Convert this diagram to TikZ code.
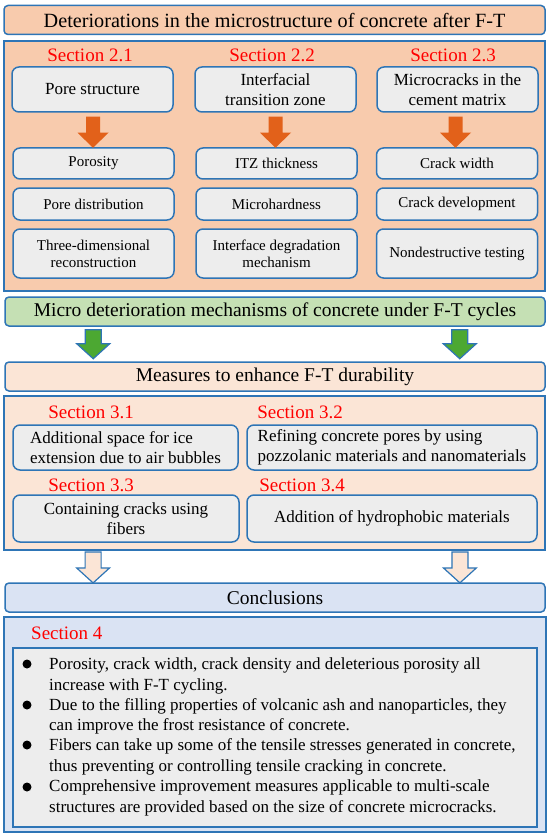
\documentclass[tikz,border=0pt]{standalone}
\usepackage{fontspec}
\setmainfont{Liberation Serif}
\usepackage{tikz}
\usetikzlibrary{calc}
\usetikzlibrary{positioning}
\definecolor{frameblue}{HTML}{2E75B6}
\definecolor{peach}{HTML}{F8CBAD}
\definecolor{peachlight}{HTML}{FBE5D6}
\definecolor{boxgray}{HTML}{EDEDED}
\definecolor{mechgreen}{HTML}{C5E0B4}
\definecolor{arrowgreen}{HTML}{4CA832}
\definecolor{arroworange}{HTML}{E2611A}
\definecolor{conclblue}{HTML}{DAE3F3}
\definecolor{secred}{HTML}{FF0000}
\tikzstyle{headbox} = [draw=frameblue, line width=1.5pt, rounded corners=4pt, minimum width=540, minimum height=29, inner sep=0, font=\fontsize{19.5}{23}\selectfont]
\tikzstyle{frame} = [draw=frameblue, line width=1.8pt, inner sep=0]
\tikzstyle{seclabel} = [text=secred, inner sep=0, anchor=base, font=\fontsize{19}{22}\selectfont]
\tikzstyle{topbox} = [draw=frameblue, fill=boxgray, line width=1.5pt, rounded corners=7pt, minimum width=161, minimum height=45, inner sep=2, align=center, font=\fontsize{17}{20}\selectfont]
\tikzstyle{itembox} = [topbox, font=\fontsize{15}{17}\selectfont]
\tikzstyle{measbox} = [topbox, minimum height=45, font=\fontsize{17}{20}\selectfont]
\tikzstyle{bullettext} = [inner sep=0, anchor=base west, align=left, font=\fontsize{17}{20.5}\selectfont]
\tikzstyle{fat} = [line width=1.2pt, line join=miter]
\newcommand{\fatarrow}[6]{\draw[fat,#1] (#2) ++(-#3,0) -- ++(2*#3,0) -- ++(0,#4) -- ++(#5-#3,0) -- ++(-#5,#6) -- ++(-#5,-#6) -- ++(#5-#3,0) -- cycle;}

\begin{document}
\begin{tikzpicture}[x=1pt,y=-1pt]
\useasboundingbox (0,0) rectangle (550,837);
% deteriorations
\node [headbox, fill=peach, minimum width=541, font=\fontsize{20.2}{24}\selectfont] (det) at (274.5,20) {Deteriorations in the microstructure of concrete after F-T};
\node [frame, fill=peach, minimum width=541, minimum height=250] (detframe) at (274.5,166) {};
\node [seclabel] (s21) at (90,62) {Section 2.1};
\node [seclabel] (s22) at (272,62) {Section 2.2};
\node [seclabel] (s23) at (453,62) {Section 2.3};
\node [topbox] (pore) at (92.5,89.5) {Pore structure};
\node [topbox] (itz) at (275.5,89.5) {Interfacial\\transition zone};
\node [topbox] (crack) at (457.5,89.5) {Microcracks in the\\cement matrix};
\node [itembox, minimum height=31] (pore1) at (93.5,163.5) {Porosity};
\node [itembox, minimum height=32] (pore2) at (93.5,204) {Pore distribution};
\node [itembox, minimum height=49] (pore3) at (93.5,253.5) {Three-dimensional\\reconstruction};
\node [itembox, minimum height=31] (itz1) at (276.5,163.5) {ITZ thickness};
\node [itembox, minimum height=32] (itz2) at (276.5,204) {Microhardness};
\node [itembox, minimum height=49] (itz3) at (276.5,253.5) {Interface degradation\\mechanism};
\node [itembox, minimum height=31] (crack1) at (457,163.5) {Crack width};
\node [itembox, minimum height=32] (crack2) at (457,204) {Crack development};
\node [itembox, minimum height=49] (crack3) at (457,253.5) {Nondestructive testing};
\fatarrow{fill=arroworange, draw=none}{$(pore.south)+(0.5,4)$}{7}{16}{15.5}{15}
\fatarrow{fill=arroworange, draw=none}{$(itz.south)+(0,4)$}{7}{16}{15.5}{15}
\fatarrow{fill=arroworange, draw=none}{$(crack.south)+(-2,4)$}{7}{16}{15.5}{15}

% mechanisms
\node [headbox, fill=mechgreen] (mech) at (275,311.5) {Micro deterioration mechanisms of concrete under F-T cycles};
\fatarrow{fill=arrowgreen, draw=frameblue}{$(mech.south west)+(89,3)$}{8}{14}{16.5}{15}
\fatarrow{fill=arrowgreen, draw=frameblue}{$(mech.south east)+(-86,3)$}{8}{14}{16.5}{15}

% measures
\node [headbox, fill=peachlight] (meas) at (275,376.5) {Measures to enhance F-T durability};
\node [frame, fill=peachlight, minimum width=541, minimum height=154] (measframe) at (274.5,473) {};
\node [seclabel] (s31) at (91,418) {Section 3.1};
\node [seclabel] (s32) at (300,418) {Section 3.2};
\node [seclabel] (s33) at (91,491) {Section 3.3};
\node [seclabel] (s34) at (302,491) {Section 3.4};
\node [measbox, minimum width=225, align=left] (air) at (125.5,447.5) {Additional space for ice\\extension due to air bubbles};
\node [measbox, minimum width=290, align=left] (pozz) at (392,447.5) {Refining concrete pores by using\\pozzolanic materials and nanomaterials};
\node [measbox, minimum width=226, minimum height=47] (fiber) at (126,518.5) {Containing cracks using\\fibers};
\node [measbox, minimum width=290, minimum height=47] (hydro) at (392,518.5) {Addition of hydrophobic materials};
\fatarrow{fill=peachlight, draw=frameblue}{$(measframe.south west)+(90,1)$}{8}{16}{16.5}{15}
\fatarrow{fill=peachlight, draw=frameblue}{$(measframe.south east)+(-86,1)$}{8}{16}{16.5}{15}

% conclusions
\node [headbox, fill=conclblue] (concl) at (275,597.5) {Conclusions};
\node [frame, fill=conclblue, minimum width=542, minimum height=215] (conclframe) at (275,724.5) {};
\node [seclabel, anchor=base west] (s4) at (31,639) {Section 4};
\node [frame, fill=boxgray, line width=1.5pt, minimum width=524, minimum height=179] (list) at (275,737.5) {};
\node [bullettext] (c1) at (49,690) {Porosity, crack width, crack density and deleterious porosity all\\increase with F-T cycling.};
\node [bullettext] (c2) at (49,730.5) {Due to the filling properties of volcanic ash and nanoparticles, they\\can improve the frost resistance of concrete.};
\node [bullettext] (c3) at (49,771) {Fibers can take up some of the tensile stresses generated in concrete,\\thus preventing or controlling tensile cracking in concrete.};
\node [bullettext] (c4) at (49,812) {Comprehensive improvement measures applicable to multi-scale\\structures are provided based on the size of concrete microcracks.};
\foreach \y in {664,705,745,787}
  \fill (27,\y) circle [radius=4.5];
\end{tikzpicture}
\end{document}
